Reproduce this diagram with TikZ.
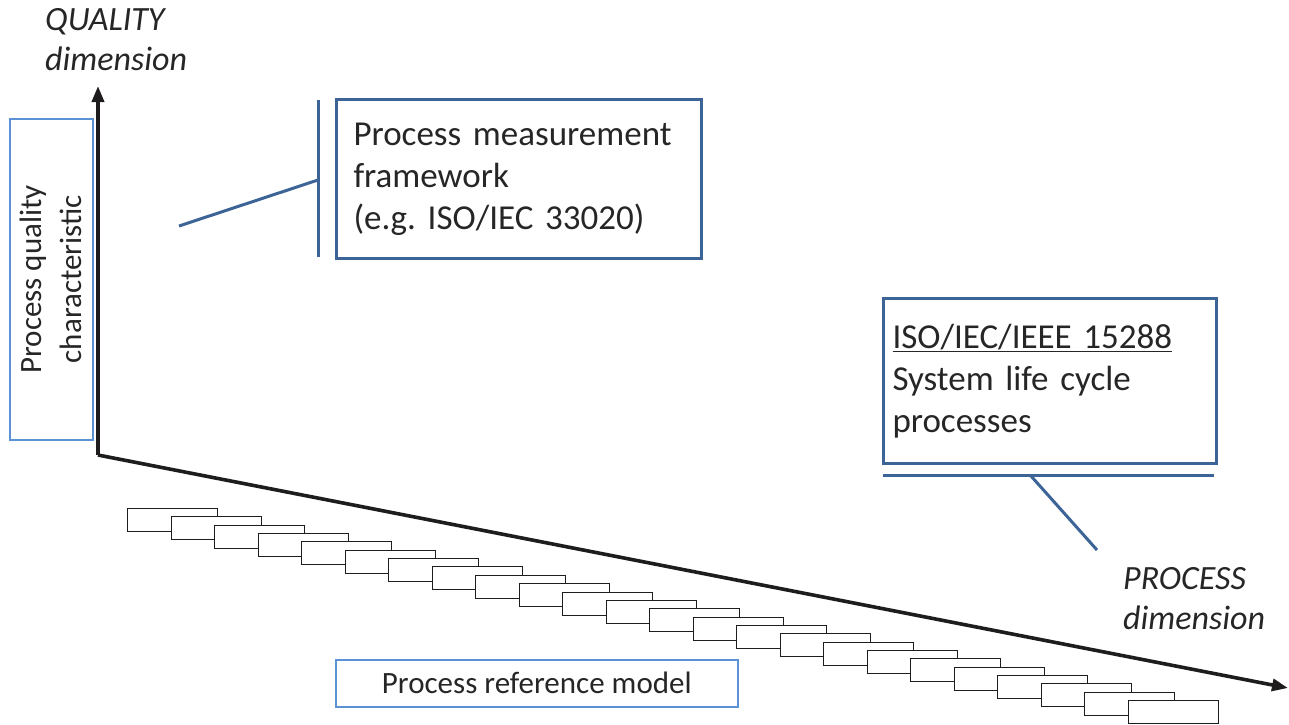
\documentclass[tikz,border=0pt]{standalone}
\usepackage{fontspec}
\setmainfont{Carlito}
\usetikzlibrary{arrows.meta}
\definecolor{darkblue}{RGB}{60,100,150}
\definecolor{lightblue}{RGB}{91,145,213}
\definecolor{axisblack}{RGB}{30,28,28}
\frenchspacing
\begin{document}
\begin{tikzpicture}[x=1pt,y=-1pt,
  axisline/.style={draw=axisblack,line width=3.6pt,-{Triangle[length=16pt,width=12pt]}},
  bigbox/.style={draw=darkblue,line width=3pt,anchor=north west,align=left,inner xsep=17pt,inner ysep=0pt,font=\fontsize{35}{42}\selectfont,text=black!85},
  thinbox/.style={draw=lightblue,line width=1.5pt,inner sep=0pt},
  callout/.style={draw=darkblue,line width=3pt},
  stairbox/.style={draw=axisblack,line width=1.6pt,fill=white},
  dimlabel/.style={font=\fontsize{34}{40}\selectfont\itshape,align=left,anchor=north west,inner sep=0pt,text=black!85}]
\useasboundingbox (0,0) rectangle (1289,724);
% staircase
\foreach \i in {0,...,23}{
  \pgfmathsetmacro{\sx}{round(127+43.5*\i)+0.5}
  \pgfmathsetmacro{\sy}{round(508+8.35*\i)+0.5}
  \draw[stairbox] (\sx,\sy) rectangle ++(90,23);
}
% axes
\coordinate (O) at (98,455);
\coordinate (Ytop) at (98,86);
\coordinate (Xend) at (1288,688);
\draw[axisline] (O) -- (Ytop);
\draw[axisline] (O) -- (Xend);
% labels
\node[dimlabel] (qdim) at (45,8) {QUALITY\\dimension};
\node[dimlabel] (pdim) at (1123,567) {PROCESS\\dimension};
% process quality characteristic
\node[thinbox,minimum width=83pt,minimum height=321pt,anchor=north west] (pqc) at (9,118) {};
\node[rotate=90,align=center,font=\fontsize{31}{40}\selectfont,text=black!85] (pqct) at (pqc.center) {Process quality\\characteristic};
% process reference model
\node[thinbox,minimum width=402pt,minimum height=47pt,anchor=north west,font=\fontsize{31}{34}\selectfont,text=black!85] (prm) at (335,659) {Process reference model};
% measurement framework
\node[bigbox,text width=331pt,minimum height=159pt] (pmf) at (335,98) {Process measurement\\framework\\(e.g. ISO/IEC 33020)};
\coordinate (pmfbarT) at (318,100);
\coordinate (pmfbarB) at (318,257);
\coordinate (pmfbarM) at (318,180);
\coordinate (pmfend) at (179,226);
\draw[callout] (pmfbarT) -- (pmfbarB);
\draw[callout] (pmfend) -- (pmfbarM);
% ISO 15288
\node[bigbox,text width=315pt,minimum height=165pt,inner xsep=9pt] (iso) at (882,297) {\underline{ISO/IEC/IEEE 15288}\\System life cycle\\processes};
\coordinate (isobarL) at (883,475);
\coordinate (isobarR) at (1214,475);
\coordinate (isobarM) at (1031,476);
\coordinate (isoend) at (1097,550);
\draw[callout] (isobarL) -- (isobarR);
\draw[callout] (isobarM) -- (isoend);
\end{tikzpicture}
\end{document}
